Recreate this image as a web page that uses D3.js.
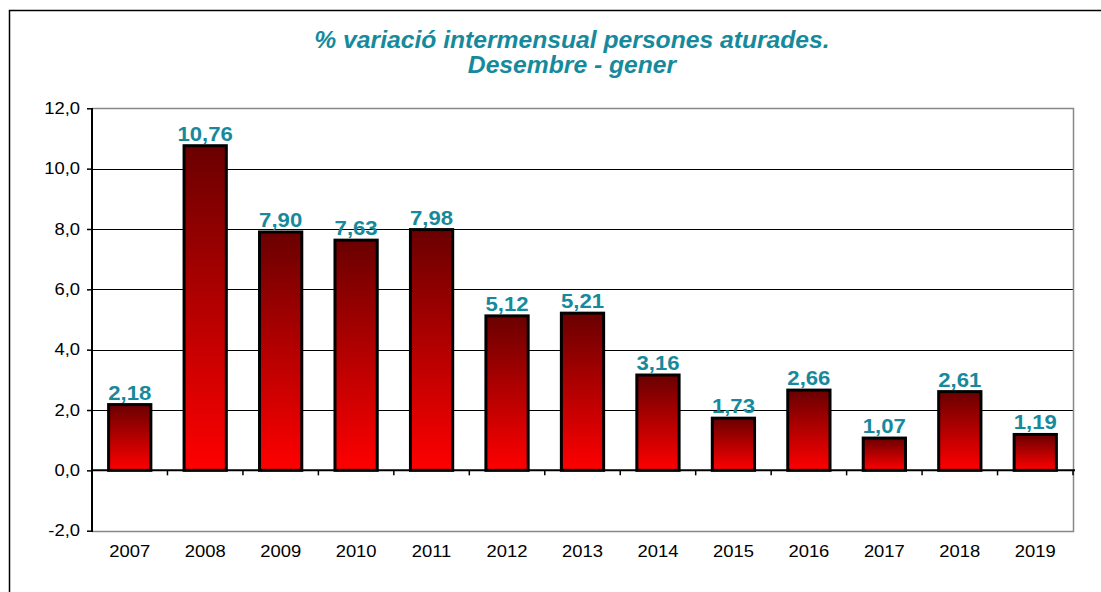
<!DOCTYPE html>
<html><head><meta charset="utf-8">
<script src="https://cdn.jsdelivr.net/npm/d3@7"></script>
<style>body{margin:0;background:#fff}svg{display:block}</style>
</head><body>
<script>
const years = ["2007","2008","2009","2010","2011","2012","2013","2014","2015","2016","2017","2018","2019"];
const values = [2.18,10.76,7.90,7.63,7.98,5.12,5.21,3.16,1.73,2.66,1.07,2.61,1.19];
const yTicks = [-2,0,2,4,6,8,10,12];
const titleLines = ["% variació intermensual persones aturades.","Desembre - gener"];

const W=1101,H=592;
const FONT="Arial, Liberation Sans, sans-serif";
const svg=d3.select("body").append("svg").attr("width",W).attr("height",H);
const L=92,R=1073,T=108.3,B=530.7;
const x=d3.scaleBand().domain(years).range([L,R]).paddingInner(0.44).paddingOuter(0.22);
const xb=d3.scaleBand().domain(years).range([L,R]);
const y=d3.scaleLinear().domain([-2,12]).range([B,T]);
const fmt=v=>v.toFixed(1).replace(".",",");
const fmt2=v=>v.toFixed(2).replace(".",",");
const teal="#168a9c";
const sxTick=1.15, sxVal=1.08, sxTitle=1.05;

// outer frame
svg.append("path").attr("d",`M9.5,${H+5}V10.5H${W+5}`).attr("fill","none").attr("stroke","#000").attr("stroke-width",1.5);

// gradient
const defs=svg.append("defs");
const g=defs.append("linearGradient").attr("id","bg").attr("x1",0).attr("y1",0).attr("x2",0).attr("y2",1);
g.append("stop").attr("offset","0%").attr("stop-color","#6a0000");
g.append("stop").attr("offset","100%").attr("stop-color","#ff0000");

// gridlines
svg.append("g").selectAll("line").data(yTicks.filter(d=>d!==0&&d!==-2&&d!==12)).join("line")
  .attr("x1",L).attr("x2",R).attr("y1",d=>Math.round(y(d))+0.5).attr("y2",d=>Math.round(y(d))+0.5)
  .attr("stroke","#000").attr("stroke-width",1);
// plot border (grey)
svg.append("path").attr("d",`M${L},${Math.round(T)+0.5}H${R+0.5}V${Math.round(B)+0.5}H${L}`)
  .attr("fill","none").attr("stroke","#888").attr("stroke-width",1.5);

// y axis
const ya=svg.append("g").attr("transform",`translate(${L},0)`)
  .call(d3.axisLeft(y).tickValues(yTicks).tickFormat(fmt).tickSize(5).tickPadding(7));
ya.select(".domain").attr("stroke","#000").attr("stroke-width",2).attr("d",`M0,${Math.round(T)}V${Math.round(B)+1}`);
ya.selectAll(".tick line").attr("stroke","#000").attr("stroke-width",1.5);
ya.selectAll("text").attr("font-family",FONT).attr("font-size",16).attr("fill","#000")
  .attr("transform",`translate(-12,0) scale(${sxTick},1)`).attr("x",0);

// bars
svg.append("g").selectAll("rect").data(years).join("rect")
  .attr("x",d=>x(d)).attr("width",x.bandwidth())
  .attr("y",(d,i)=>y(values[i])).attr("height",(d,i)=>y(0)-y(values[i]))
  .attr("fill","url(#bg)").attr("stroke","#000").attr("stroke-width",3);

// zero line and category ticks
svg.append("line").attr("x1",L).attr("x2",R+2).attr("y1",y(0)).attr("y2",y(0)).attr("stroke","#000").attr("stroke-width",2);
svg.append("g").selectAll("line").data(years.slice(1).concat(["end"])).join("line")
  .attr("x1",(d,i)=>i<years.length-1?xb(d):R).attr("x2",(d,i)=>i<years.length-1?xb(d):R)
  .attr("y1",y(0)).attr("y2",y(0)+5).attr("stroke","#000").attr("stroke-width",1.5);

// x labels
svg.append("g").selectAll("text").data(years).join("text")
  .attr("transform",d=>`translate(${xb(d)+xb.bandwidth()/2},557) scale(${sxTick},1)`).attr("text-anchor","middle")
  .attr("font-family",FONT).attr("font-size",16).attr("fill","#000").text(d=>d);

// value labels
svg.append("g").selectAll("text").data(years).join("text")
  .attr("transform",(d,i)=>`translate(${x(d)+x.bandwidth()/2},${y(values[i])-5}) scale(${sxVal},1)`).attr("text-anchor","middle")
  .attr("font-family",FONT).attr("font-size",20.5).attr("font-weight","bold")
  .attr("fill",teal).text((d,i)=>fmt2(values[i]));

// title
svg.append("g").selectAll("text").data(titleLines).join("text")
  .attr("transform",(d,i)=>`translate(572,${48+i*25}) scale(${sxTitle},1)`).attr("text-anchor","middle")
  .attr("font-family",FONT).attr("font-size",23.5).attr("font-weight","bold")
  .attr("font-style","italic").attr("fill",teal).text(d=>d);
</script>
</body></html>
